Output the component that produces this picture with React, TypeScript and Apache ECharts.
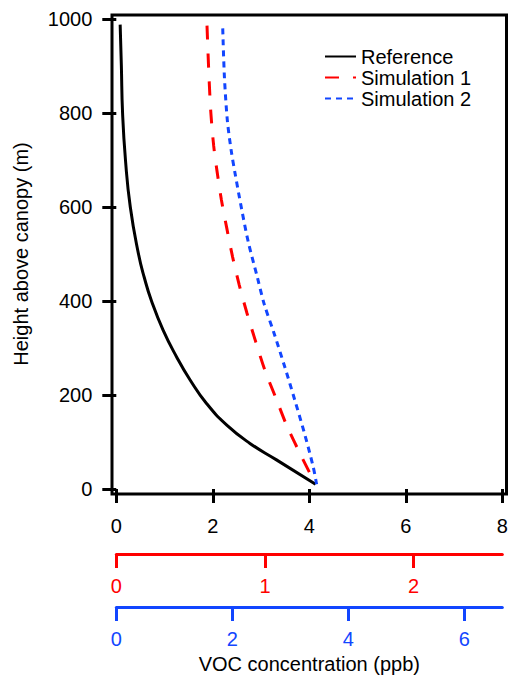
import React, { useEffect, useRef } from "react";
import * as echarts from "echarts";

// Heights (m) and concentrations
const refHeight = [988, 900, 800, 700, 600, 500, 450, 400, 338, 281, 232, 182, 136, 97, 62, 10];
const refConc = [0.08, 0.105, 0.13, 0.19, 0.29, 0.46, 0.58, 0.73, 0.97, 1.25, 1.53, 1.87, 2.29, 2.77, 3.32, 4.13];

// Simulation 1 on the red axis (ppb)
const sim1Height = [986, 880, 800, 730, 675, 615, 555, 494, 434, 374, 313, 253, 193, 136, 79, 26, 10];
const sim1Conc = [0.61, 0.623, 0.636, 0.655, 0.678, 0.707, 0.743, 0.782, 0.827, 0.879, 0.938, 0.999, 1.074, 1.145, 1.23, 1.314, 1.337];

// Simulation 2 on the blue axis (ppb)
const sim2Height = [980, 877, 785, 721, 672, 594, 523, 452, 395, 331, 260, 189, 118, 47, 10];
const sim2Conc = [1.835, 1.864, 1.914, 1.98, 2.047, 2.163, 2.28, 2.429, 2.546, 2.721, 2.904, 3.078, 3.245, 3.395, 3.453];

const heightTicks = [0, 200, 400, 600, 800, 1000];
const refTicks = [0, 2, 4, 6, 8];
const sim1Ticks = [0, 1, 2];
const sim2Ticks = [0, 2, 4, 6];

const seriesNames = ["Reference", "Simulation 1", "Simulation 2"];

const RED = "#ff0000";
const BLUE = "#1246ff";
const FONT = "Liberation Sans, Arial, Helvetica, sans-serif";

export default function App() {
  const ref = useRef<HTMLDivElement>(null);
  useEffect(() => {
    if (!ref.current) return;
    const chart = echarts.init(ref.current, undefined, { renderer: "svg" });
    const tickStyle = (color: string) => ({ show: true, inside: false, length: 14, lineStyle: { color, width: 3 } });
    const plain = (v: number) => String(v);
    const option: any = {
      animation: false,
      backgroundColor: "#fff",
      textStyle: { fontFamily: FONT },
      grid: [
        { left: 112, right: 4.5, top: 15, bottom: 190, show: true, borderColor: "#000", borderWidth: 3, backgroundColor: "transparent" },
        { left: 116.3, right: 8.7, top: 19, bottom: 195 },
      ],
      legend: {
        data: seriesNames,
        orient: "vertical",
        left: 319,
        top: 41,
        itemWidth: 31,
        itemHeight: 14,
        itemGap: 0,
        itemStyle: { opacity: 0 },
        textStyle: { fontSize: 20, lineHeight: 21, color: "#000", fontFamily: FONT },
      },
      xAxis: [
        { gridIndex: 0, type: "value", show: false, min: 0, max: 1 },
        {
          gridIndex: 1, type: "value", position: "bottom", offset: 5, min: 0, max: 8,
          axisLine: { show: false },
          axisTick: { ...tickStyle("#000"), customValues: refTicks },
          axisLabel: { customValues: refTicks, formatter: plain, margin: 22, fontSize: 20, color: "#000", fontFamily: FONT },
          splitLine: { show: false },
        },
        {
          gridIndex: 1, type: "value", position: "bottom", offset: 65, min: 0, max: 2.596,
          axisLine: { show: true, onZero: false, lineStyle: { color: RED, width: 3 } },
          axisTick: { ...tickStyle(RED), customValues: sim1Ticks },
          axisLabel: { customValues: sim1Ticks, formatter: plain, margin: 22, fontSize: 20, color: RED, fontFamily: FONT },
          splitLine: { show: false },
        },
        {
          gridIndex: 1, type: "value", position: "bottom", offset: 118, min: 0, max: 6.655,
          axisLine: { show: true, onZero: false, lineStyle: { color: BLUE, width: 3 } },
          axisTick: { ...tickStyle(BLUE), customValues: sim2Ticks },
          axisLabel: { customValues: sim2Ticks, formatter: plain, margin: 22, fontSize: 20, color: BLUE, fontFamily: FONT },
          splitLine: { show: false },
          name: "VOC concentration (ppb)",
          nameLocation: "middle",
          nameGap: 45,
          nameTextStyle: { fontSize: 20, color: "#000", fontFamily: FONT },
        },
      ],
      yAxis: [
        { gridIndex: 0, type: "value", show: false, min: 0, max: 1 },
        {
          gridIndex: 1, type: "value", position: "left", offset: 4, min: 0, max: 1000,
          axisLine: { show: false },
          axisTick: { ...tickStyle("#000"), customValues: heightTicks },
          axisLabel: { customValues: heightTicks, formatter: plain, margin: 20, fontSize: 20, color: "#000", fontFamily: FONT },
          splitLine: { show: false },
          name: "Height above canopy (m)",
          nameLocation: "middle",
          nameGap: 81,
          nameRotate: 90,
          nameTextStyle: { fontSize: 20, color: "#000", fontFamily: FONT },
        },
      ],
      series: [
        {
          type: "line", name: seriesNames[0], xAxisIndex: 1, yAxisIndex: 1,
          data: refConc.map((c, i) => [c, refHeight[i]]),
          symbol: "none", smooth: 0.5,
          lineStyle: { color: "#000", width: 3 }, itemStyle: { color: "#000" },
        },
        {
          type: "line", name: seriesNames[1], xAxisIndex: 2, yAxisIndex: 1,
          data: sim1Conc.map((c, i) => [c, sim1Height[i]]),
          symbol: "none", smooth: 0.3,
          lineStyle: { color: RED, width: 3, type: [14, 14] }, itemStyle: { color: RED },
        },
        {
          type: "line", name: seriesNames[2], xAxisIndex: 3, yAxisIndex: 1,
          data: sim2Conc.map((c, i) => [c, sim2Height[i]]),
          symbol: "none", smooth: 0.3,
          lineStyle: { color: BLUE, width: 3, type: [6, 5] }, itemStyle: { color: BLUE },
        },
      ],
    };
    chart.setOption(option);
    return () => chart.dispose();
  }, []);
  return <div ref={ref} style={{ position: "fixed", left: 0, top: 0, width: 511, height: 684 }} />;
}
